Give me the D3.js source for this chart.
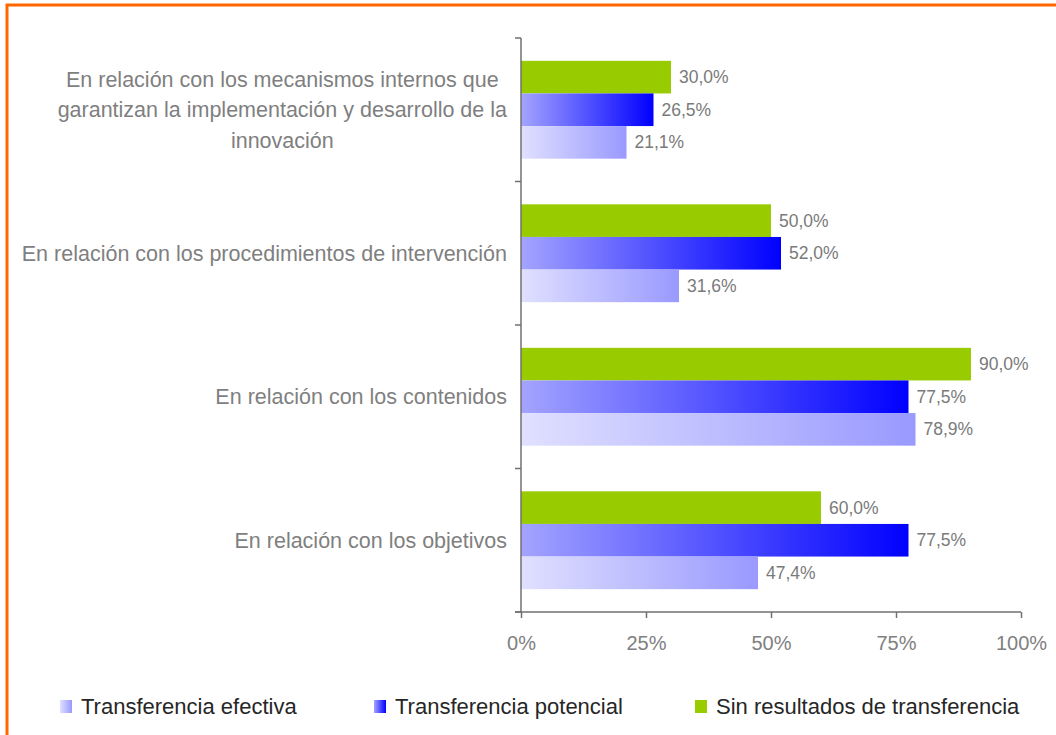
<!DOCTYPE html>
<html><head><meta charset="utf-8">
<script src="https://cdn.jsdelivr.net/npm/d3@7"></script>
<style>body{margin:0;background:#fff}svg{display:block}text{font-family:"Liberation Sans",Arial,sans-serif}</style>
</head><body>
<svg id="c" width="1056" height="735"></svg>
<script>
const categories = [
  ["En relación con los mecanismos internos que","garantizan la implementación y desarrollo de la","innovación"],
  ["En relación con los procedimientos de intervención"],
  ["En relación con los contenidos"],
  ["En relación con los objetivos"]
];
const seriesNames = ["Sin resultados de transferencia","Transferencia potencial","Transferencia efectiva"];
const sinResultados = [30.0, 50.0, 90.0, 60.0];
const potencial = [26.5, 52.0, 77.5, 77.5];
const efectiva = [21.1, 31.6, 78.9, 47.4];
const xTicks = [0, 25, 50, 75, 100];
const legendOrder = ["Transferencia efectiva","Transferencia potencial","Sin resultados de transferencia"];

const svg = d3.select("#c");
const defs = svg.append("defs");
function grad(id, c0, c1){
  const g = defs.append("linearGradient").attr("id", id).attr("x1","0").attr("x2","1").attr("y1","0").attr("y2","0");
  g.append("stop").attr("offset","0").attr("stop-color", c0);
  g.append("stop").attr("offset","1").attr("stop-color", c1);
}
grad("gEf", "#e0e0ff", "#9999ff");
grad("gPot", "#a4a4ff", "#0000ff");
const fills = {
  "Sin resultados de transferencia": "#99cc00",
  "Transferencia potencial": "url(#gPot)",
  "Transferencia efectiva": "url(#gEf)"
};
const values = {
  "Sin resultados de transferencia": sinResultados,
  "Transferencia potencial": potencial,
  "Transferencia efectiva": efectiva
};

// border
svg.append("rect").attr("x",7).attr("y",5).attr("width",1200).attr("height",900)
  .attr("fill","none").attr("stroke","#ff6600").attr("stroke-width",3);

const x = d3.scaleLinear().domain([0,100]).range([521,1021]);
const catIdx = d3.range(categories.length);
const y0 = d3.scaleBand().domain(catIdx).range([38,612]).paddingInner(0).paddingOuter(0);
const y1 = d3.scaleBand().domain(seriesNames).range([0, y0.bandwidth()]).paddingInner(0).paddingOuter(0.7);

// bars
catIdx.forEach(i => {
  seriesNames.forEach(s => {
    const v = values[s][i];
    svg.append("rect")
      .attr("x", x(0)).attr("y", y0(i) + y1(s))
      .attr("width", x(v) - x(0)).attr("height", y1.bandwidth())
      .attr("fill", fills[s]);
    svg.append("text")
      .attr("x", x(v) + 8).attr("y", y0(i) + y1(s) + y1.bandwidth()/2)
      .attr("dy","0.35em").attr("font-size", 17.5).attr("fill","#7a7a7a")
      .text(d3.format(".1f")(v).replace(".", ",") + "%");
  });
});

// axes
const axisColor = "#707070";
const xAxis = svg.append("g").attr("transform", "translate(0,612)")
  .call(d3.axisBottom(x).tickValues(xTicks).tickSize(6).tickSizeOuter(0).tickFormat(d => d + "%"));
xAxis.select(".domain").remove();
xAxis.selectAll(".tick line").attr("stroke", axisColor).attr("stroke-width",1.5);
xAxis.selectAll(".tick text").attr("font-size", 20).attr("fill","#808080").attr("y", 31).attr("dy","0.35em")
  .attr("font-family","Liberation Sans, Arial, sans-serif");
svg.append("line").attr("x1", 515).attr("x2", x(100)).attr("y1",612).attr("y2",612)
  .attr("stroke", axisColor).attr("stroke-width",1.5);
svg.append("line").attr("x1", x(0)).attr("x2", x(0)).attr("y1",38).attr("y2",612)
  .attr("stroke", axisColor).attr("stroke-width",1.5);
const bounds = catIdx.map(i => y0(i)).concat([y0.range()[1]]);
bounds.forEach(b => {
  svg.append("line").attr("x1", 515).attr("x2", x(0)).attr("y1", b).attr("y2", b)
    .attr("stroke", axisColor).attr("stroke-width",1.5);
});

// category labels
catIdx.forEach(i => {
  const lines = categories[i];
  const lh = 30.5;
  const cy = y0(i) + y0.bandwidth()/2;
  const g = svg.append("g");
  const t = g.append("text").attr("font-size", 21.5).attr("fill","#7f7f7f").attr("text-anchor","middle");
  lines.forEach((ln, k) => {
    t.append("tspan").attr("x", 0).attr("y", cy + (k - (lines.length-1)/2) * lh).attr("dy","0.35em").text(ln);
  });
  const w = t.node().getBBox().width;
  t.attr("transform", `translate(${507 - w/2},0)`);
});

// legend
const legX = [60, 374, 695];
legendOrder.forEach((s, k) => {
  svg.append("rect").attr("x", legX[k]).attr("y", 700).attr("width", 12).attr("height", 13).attr("fill", fills[s]);
  svg.append("text").attr("x", legX[k] + 21).attr("y", 706).attr("dy","0.35em")
    .attr("font-size", 22).attr("fill","#262626").text(s);
});
</script>
</body></html>
